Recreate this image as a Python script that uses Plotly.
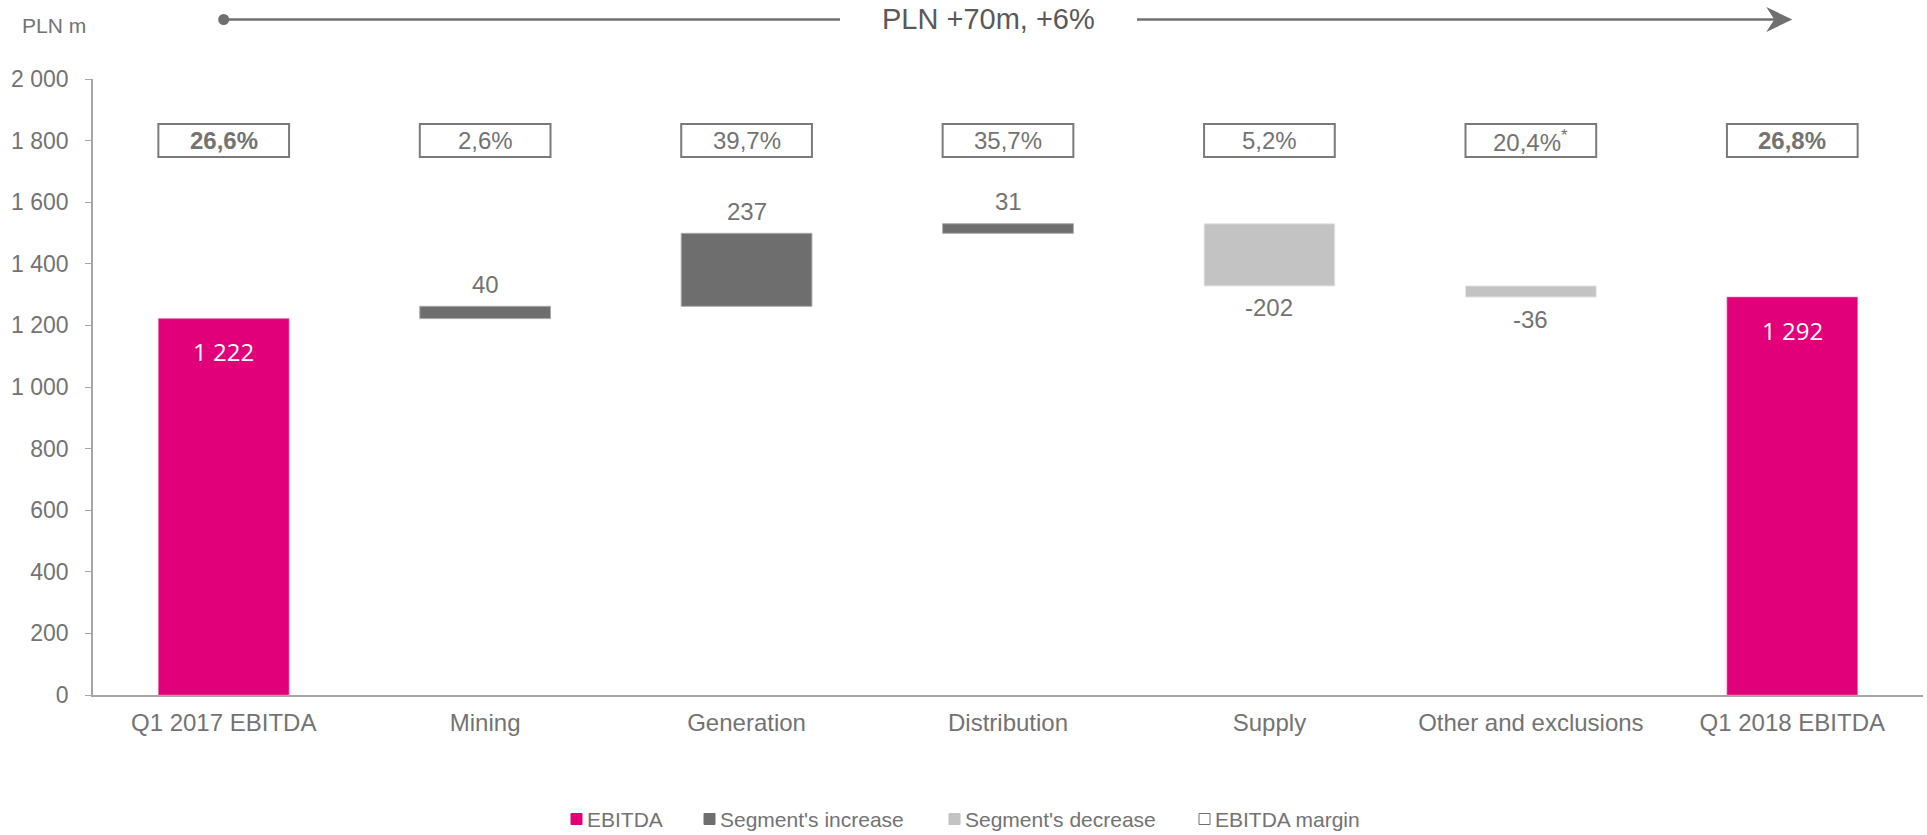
import plotly.graph_objects as go

# ---- data -------------------------------------------------------------
categories = ["Q1 2017 EBITDA", "Mining", "Generation", "Distribution",
              "Supply", "Other and exclusions", "Q1 2018 EBITDA"]
ebitda_start = 1222
segment_changes = [40, 237, 31, -202, -36]
ebitda_end = 1292
margin_labels = ["26,6%", "2,6%", "39,7%", "35,7%", "5,2%", "20,4%", "26,8%"]
margin_footnote = [False, False, False, False, False, True, False]
y_ticks = [0, 200, 400, 600, 800, 1000, 1200, 1400, 1600, 1800, 2000]
headline = "PLN +70m, +6%"
unit_label = "PLN m"

# ---- style ------------------------------------------------------------
MAGENTA = "#e2007a"
DARK = "#6e6e6e"
LIGHT = "#c3c3c3"
TEXT = "#737373"
AXIS = "#a6a6a6"
FONT = "Liberation Sans, Arial, sans-serif"

W, H = 1927, 835
ML, MR, MT, MB = 93, 4, 79, 140
PW, PH = W - ML - MR, H - MT - MB


def px(x):
    return (x - ML) / PW


def py(y):
    return (H - MB - y) / PH


# ---- waterfall geometry ----------------------------------------------
n = len(categories)
inc_x, inc_base, inc_y = [], [], []
dec_x, dec_base, dec_y = [], [], []
level = ebitda_start
for i, ch in enumerate(segment_changes, start=1):
    if ch >= 0:
        inc_x.append(i); inc_base.append(level); inc_y.append(ch)
    else:
        dec_x.append(i); dec_base.append(level); dec_y.append(ch)
    level += ch

fig = go.Figure()
fig.add_trace(go.Bar(x=[0, n - 1], y=[ebitda_start, ebitda_end], width=0.5,
                     marker=dict(color=MAGENTA, line=dict(color="#ee7fb8", width=0.6)),
                     name="EBITDA", hoverinfo="skip"))
fig.add_trace(go.Bar(x=inc_x, y=inc_y, base=inc_base, width=0.5,
                     marker=dict(color=DARK, line=dict(color="#a8a8a8", width=1)),
                     name="Segment's increase", hoverinfo="skip"))
fig.add_trace(go.Bar(x=dec_x, y=dec_y, base=dec_base, width=0.5,
                     marker=dict(color=LIGHT, line=dict(color="#e6e6e6", width=1)),
                     name="Segment's decrease", hoverinfo="skip"))

annotations = []
shapes = []


def fmt(v):
    s = f"{abs(v):,}".replace(",", " ")
    return ("-" if v < 0 else "") + s


# totals: white labels inside the bars
for xi, v in [(0, ebitda_start), (n - 1, ebitda_end)]:
    annotations.append(dict(x=xi, y=v, xref="x", yref="y", text=fmt(v),
                            showarrow=False, yanchor="middle", yshift=-33,
                            font=dict(family="Open Sans, Noto Sans, sans-serif",
                                      size=24, color="white")))

# segment changes: labels outside the bar ends
for xs, bs, ys in [(inc_x, inc_base, inc_y), (dec_x, dec_base, dec_y)]:
    for xi, b, v in zip(xs, bs, ys):
        end = b + v
        annotations.append(dict(x=xi, y=end, xref="x", yref="y", text=fmt(v),
                                showarrow=False, yanchor="middle",
                                yshift=22 if v > 0 else -22,
                                font=dict(family=FONT, size=24, color=TEXT)))

# EBITDA margin boxes
box_half = 53.5
for i, lab in enumerate(margin_labels):
    shapes.append(dict(type="rect", xref="x", yref="y", x0=i - 0.25, x1=i + 0.25,
                       y0=1800 - box_half, y1=1800 + box_half,
                       line=dict(color="#7a7a7a", width=2), fillcolor="white",
                       layer="above"))
    txt = lab
    if margin_footnote[i]:
        txt += "<sup>*</sup>"
    if i in (0, n - 1):
        txt = f"<b>{txt}</b>"
    annotations.append(dict(x=i, y=1800, xref="x", yref="y", text=txt,
                            showarrow=False, yanchor="middle",
                            font=dict(family=FONT, size=24, color=TEXT)))

# headline arrow above the plot
ay = 19.5
cx0 = ML + PW / n * 0.5
cx1 = ML + PW / n * (n - 0.5)
line_style = dict(color="#6f6f6f", width=2.5)
shapes.append(dict(type="line", xref="paper", yref="paper",
                   x0=px(cx0), x1=px(840), y0=py(ay), y1=py(ay), line=line_style))
shapes.append(dict(type="line", xref="paper", yref="paper",
                   x0=px(1137), x1=px(cx1 - 10), y0=py(ay), y1=py(ay), line=line_style))
shapes.append(dict(type="circle", xref="paper", yref="paper",
                   x0=px(cx0 - 5.5), x1=px(cx0 + 5.5), y0=py(ay - 5.5), y1=py(ay + 5.5),
                   fillcolor="#6f6f6f", line=dict(width=0)))
head = (f"M {px(cx1)},{py(ay)} L {px(cx1 - 26)},{py(ay - 12.5)} "
        f"L {px(cx1 - 18)},{py(ay)} L {px(cx1 - 26)},{py(ay + 12.5)} Z")
shapes.append(dict(type="path", xref="paper", yref="paper", path=head,
                   fillcolor="#6f6f6f", line=dict(width=0)))
annotations.append(dict(x=px(988), y=py(ay), xref="paper", yref="paper",
                        text=headline, showarrow=False, xanchor="center",
                        yanchor="middle",
                        font=dict(family=FONT, size=29, color="#595959")))
annotations.append(dict(x=px(54), y=py(26), xref="paper", yref="paper",
                        text=unit_label, showarrow=False, xanchor="center",
                        yanchor="middle",
                        font=dict(family=FONT, size=21, color=TEXT)))

# legend row
legend_items = [("EBITDA", MAGENTA, MAGENTA, 571),
                ("Segment's increase", DARK, DARK, 704),
                ("Segment's decrease", LIGHT, LIGHT, 949),
                ("EBITDA margin", "white", "#6f6f6f", 1199)]
ly = 819
for name, fill, edge, x0 in legend_items:
    shapes.append(dict(type="rect", xref="paper", yref="paper",
                       x0=px(x0), x1=px(x0 + 11), y0=py(ly - 5.5), y1=py(ly + 5.5),
                       fillcolor=fill, line=dict(color=edge, width=1)))
    annotations.append(dict(x=px(x0 + 14), y=py(ly), xref="paper", yref="paper",
                            text=name, showarrow=False, xanchor="left", yanchor="middle",
                            font=dict(family=FONT, size=21, color=TEXT)))

fig.update_layout(
    width=W, height=H,
    margin=dict(l=ML, r=MR, t=MT, b=MB, pad=0),
    paper_bgcolor="white", plot_bgcolor="white",
    separators=", ",
    showlegend=False,
    barmode="overlay",
    shapes=shapes,
    annotations=annotations,
    font=dict(family=FONT, color=TEXT),
    xaxis=dict(range=[-0.5, n - 0.5], tickvals=list(range(n)), ticktext=categories,
               showgrid=False, zeroline=False, showline=True, linecolor=AXIS,
               linewidth=1.5, ticks="", ticklabelstandoff=5,
               tickfont=dict(family=FONT, size=24, color=TEXT)),
    yaxis=dict(range=[0, 2000], tickvals=y_ticks, tickformat=",d",
               showgrid=False, zeroline=False, showline=True, linecolor=AXIS,
               linewidth=1.5, ticks="outside", ticklen=6, tickcolor=AXIS,
               ticklabelstandoff=12,
               tickfont=dict(family=FONT, size=23, color=TEXT)),
)

fig.write_html("out.html")
